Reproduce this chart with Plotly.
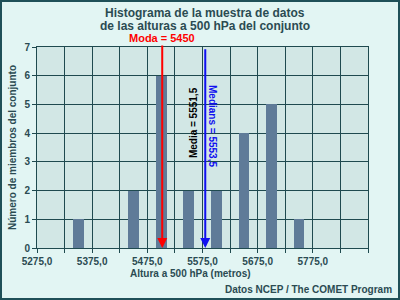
import plotly.graph_objects as go

# ---- data ----
bin_centers = [5350, 5450, 5500, 5550, 5600, 5650, 5700, 5750]
counts = [1, 2, 6, 2, 2, 4, 5, 1]
tick_vals = [5275, 5325, 5375, 5425, 5475, 5525, 5575, 5625, 5675, 5725, 5775, 5825, 5875]
tick_text = ["5275,0", "", "5375,0", "", "5475,0", "", "5575,0", "", "5675,0", "", "5775,0", "", ""]
y_ticks = [0, 1, 2, 3, 4, 5, 6, 7]
mode_label = "Moda = 5450"
mean_label = "Media = 5551,5"
median_label = "Medians = 5553,5"
mode_pos = 5502          # x position of red arrow as drawn
median_pos = 5580        # x position of blue arrow as drawn
mean_text_pos = 5558
median_text_pos = 5594

GRID = "#1F4A4F"
TXT = "#2B4B52"
FONT = "Liberation Sans, Arial, sans-serif"

fig = go.Figure()
fig.add_trace(go.Bar(x=bin_centers, y=counts, width=19.5,
                     marker=dict(color="#5F7B98", line=dict(width=0))))

L, R, T, B = 37, 32, 47, 52
W, H = 400, 300
pw, ph = W - L - R, H - T - B

def px(x):
    return (x - L) / pw

def py(y):
    return (H - B - y) / ph

ann = []
ann.append(dict(text="<b>Histograma de la muestra de datos</b>", x=px(205), y=py(13),
                xref="paper", yref="paper", showarrow=False, font=dict(size=12, color=TXT, family=FONT),
                xanchor="center", yanchor="middle"))
ann.append(dict(text="<b>de las alturas a 500 hPa del conjunto</b>", x=px(205), y=py(26),
                xref="paper", yref="paper", showarrow=False, font=dict(size=12, color=TXT, family=FONT),
                xanchor="center", yanchor="middle"))
ann.append(dict(text="<b>Número de miembros del conjunto</b>", x=px(12), y=py(148),
                xref="paper", yref="paper", showarrow=False, textangle=-90,
                font=dict(size=10, color=TXT, family=FONT), xanchor="center", yanchor="middle"))
ann.append(dict(text="<b>Altura a 500 hPa (metros)</b>", x=px(190), y=py(273),
                xref="paper", yref="paper", showarrow=False,
                font=dict(size=10, color=TXT, family=FONT), xanchor="center", yanchor="middle"))
ann.append(dict(text="<b>Datos NCEP / The COMET Program</b>", x=px(394), y=py(289),
                xref="paper", yref="paper", showarrow=False,
                font=dict(size=10, color=TXT, family=FONT), xanchor="right", yanchor="middle"))
# arrows
ann.append(dict(x=mode_pos, y=0, ax=mode_pos, ay=7.32, xref="x", yref="y", axref="x", ayref="y",
                text="", showarrow=True, arrowcolor="#FF0000", arrowwidth=2, arrowhead=2, arrowsize=1))
ann.append(dict(x=median_pos, y=0, ax=median_pos, ay=6.97, xref="x", yref="y", axref="x", ayref="y",
                text="", showarrow=True, arrowcolor="#1010F0", arrowwidth=2, arrowhead=2, arrowsize=1))
ann.append(dict(text="<b>" + mode_label + "</b>", x=mode_pos, y=py(38), xref="x", yref="paper",
                showarrow=False, font=dict(size=11, color="#FF0000", family=FONT),
                xanchor="center", yanchor="middle", bgcolor="#E2F5F3"))
ann.append(dict(text="<b>" + mean_label + "</b>", x=mean_text_pos, y=py(123), xref="x", yref="paper",
                showarrow=False, textangle=-90, font=dict(size=10, color="#000000", family=FONT),
                xanchor="center", yanchor="middle"))
ann.append(dict(text="<b>" + median_label + "</b>", x=median_text_pos, y=py(126), xref="x", yref="paper",
                showarrow=False, textangle=90, font=dict(size=10, color="#1010F0", family=FONT),
                xanchor="center", yanchor="middle"))

shapes = [dict(type="rect", xref="paper", yref="paper",
               x0=px(1), x1=px(W - 1), y0=py(H - 1), y1=py(1),
               line=dict(color="#1F5058", width=2), fillcolor="rgba(0,0,0,0)", layer="above")]

fig.update_layout(
    width=W, height=H,
    margin=dict(l=L, r=R, t=T, b=B),
    paper_bgcolor="#E2F5F3", plot_bgcolor="#D2E7E5",
    showlegend=False,
    annotations=ann, shapes=shapes,
    font=dict(family=FONT, color=TXT),
    bargap=0,
)
fig.update_xaxes(range=[5275, 5875], tickmode="array", tickvals=tick_vals,
                 ticktext=["<b>%s</b>" % t if t else "" for t in tick_text],
                 showgrid=True, gridcolor=GRID, gridwidth=1,
                 showline=True, linecolor=GRID, linewidth=1, mirror=True,
                 ticks="outside", ticklen=4, tickcolor=GRID,
                 tickfont=dict(size=10, color=TXT, family=FONT), zeroline=False, fixedrange=True)
fig.update_yaxes(range=[0, 7], tickmode="array", tickvals=y_ticks,
                 ticktext=["<b>%d</b>" % v for v in y_ticks],
                 showgrid=True, gridcolor=GRID, gridwidth=1,
                 showline=True, linecolor=GRID, linewidth=1, mirror=True,
                 ticks="outside", ticklen=4, tickcolor=GRID,
                 tickfont=dict(size=10, color=TXT, family=FONT), zeroline=False, fixedrange=True)

fig.write_html("out.html", config=dict(displayModeBar=False))
